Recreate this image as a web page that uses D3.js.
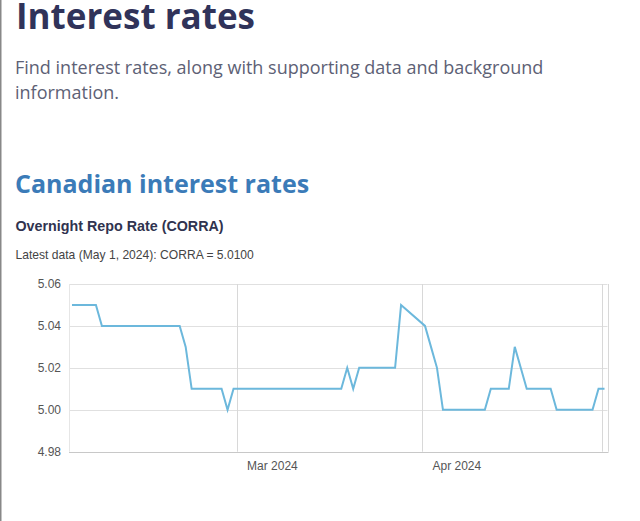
<!DOCTYPE html>
<html>
<head>
<meta charset="utf-8">
<script src="https://cdn.jsdelivr.net/npm/d3@7"></script>
<style>
  html, body { margin: 0; padding: 0; background: #fff; }
  svg { display: block; }
</style>
</head>
<body>
<svg id="chart" width="640" height="521"></svg>
<script>
// ---- Data (CORRA, business days) ----
const dates = [
  "2024-02-02","2024-02-05","2024-02-06","2024-02-07","2024-02-08","2024-02-09",
  "2024-02-12","2024-02-13","2024-02-14","2024-02-15","2024-02-16","2024-02-20",
  "2024-02-21","2024-02-22","2024-02-23","2024-02-26","2024-02-27","2024-02-28",
  "2024-02-29","2024-03-01","2024-03-04","2024-03-05","2024-03-06","2024-03-07",
  "2024-03-08","2024-03-11","2024-03-12","2024-03-13","2024-03-14","2024-03-15",
  "2024-03-18","2024-03-19","2024-03-20","2024-03-21","2024-03-22","2024-03-25",
  "2024-03-26","2024-03-27","2024-03-28","2024-04-01","2024-04-02","2024-04-03",
  "2024-04-04","2024-04-05","2024-04-08","2024-04-09","2024-04-10","2024-04-11",
  "2024-04-12","2024-04-15","2024-04-16","2024-04-17","2024-04-18","2024-04-19",
  "2024-04-22","2024-04-23","2024-04-24","2024-04-25","2024-04-26","2024-04-29",
  "2024-04-30","2024-05-01"
];
const values = [
  5.05,5.05,5.05,5.04,5.04,5.04,
  5.04,5.04,5.04,5.04,5.04,5.04,
  5.03,5.01,5.01,5.01,5.01,5.00,
  5.01,5.01,5.01,5.01,5.01,5.01,
  5.01,5.01,5.01,5.01,5.01,5.01,
  5.01,5.02,5.01,5.02,5.02,5.02,
  5.02,5.02,5.05,5.04,5.03,5.02,
  5.00,5.00,5.00,5.00,5.00,5.00,
  5.01,5.01,5.03,5.02,5.01,5.01,
  5.01,5.00,5.00,5.00,5.00,5.00,
  5.01,5.01
];
const yTicks = [4.98, 5.00, 5.02, 5.04, 5.06];
const xTickDates = ["2024-03-01", "2024-04-01", "2024-05-01"];
const xTickLabels = ["Mar 2024", "Apr 2024", ""];
const xDomain = ["2024-02-02", "2024-05-02"];

const parse = d3.utcParse("%Y-%m-%d");
const HALF_DAY = 12 * 3600 * 1000;
const series = dates.map((d, i) => ({ t: new Date(parse(d).getTime() + HALF_DAY), v: values[i] }));

const svg = d3.select("#chart");

// page left border
svg.append("rect").attr("x", 0).attr("y", 0).attr("width", 1.5).attr("height", 521).attr("fill", "#888");

// headings
svg.append("text").attr("x", 16).attr("y", 29)
  .attr("font-family", "Open Sans").attr("font-weight", 700).attr("font-size", 35)
  .attr("fill", "#30335a").text("Interest rates");

const sub = svg.append("text").attr("font-family", "Open Sans").attr("font-size", 18)
  .attr("fill", "#5d6175");
sub.append("tspan").attr("x", 15).attr("y", 74).text("Find interest rates, along with supporting data and background");
sub.append("tspan").attr("x", 15).attr("y", 99).text("information.");

svg.append("text").attr("x", 15).attr("y", 193)
  .attr("font-family", "Open Sans").attr("font-weight", 700).attr("font-size", 25)
  .attr("fill", "#3b7bb8").text("Canadian interest rates");

svg.append("text").attr("x", 15.5).attr("y", 231)
  .attr("font-family", "Liberation Sans, Arial, sans-serif").attr("font-weight", 700).attr("font-size", 14.3)
  .attr("fill", "#30334f").text("Overnight Repo Rate (CORRA)");

svg.append("text").attr("x", 15.5).attr("y", 258.5)
  .attr("font-family", "Liberation Sans, Arial, sans-serif").attr("font-size", 12.1)
  .attr("fill", "#444").text("Latest data (May 1, 2024): CORRA = 5.0100");

// ---- chart ----
const L = 69, R = 607.5, T = 284, B = 451.7;
const x = d3.scaleUtc().domain(xDomain.map(parse)).range([L, R]);
const y = d3.scaleLinear().domain([4.98, 5.06]).range([B, T]);

const g = svg.append("g");

// horizontal gridlines
g.selectAll(".hg").data(yTicks).join("line")
  .attr("x1", L).attr("x2", R)
  .attr("y1", d => Math.round(y(d)) + 0.5).attr("y2", d => Math.round(y(d)) + 0.5)
  .attr("stroke", "#e0e0e0").attr("stroke-width", 1);

// vertical gridlines at month starts
g.selectAll(".vg").data(xTickDates).join("line")
  .attr("x1", d => Math.round(x(parse(d))) + 0.5).attr("x2", d => Math.round(x(parse(d))) + 0.5)
  .attr("y1", T).attr("y2", B)
  .attr("stroke", "#d8d8d8").attr("stroke-width", 1);

// frame left / right
g.append("line").attr("x1", L + 0.5).attr("x2", L + 0.5).attr("y1", T).attr("y2", B)
  .attr("stroke", "#e6e6e6");
g.append("line").attr("x1", Math.round(R) + 0.5).attr("x2", Math.round(R) + 0.5).attr("y1", T).attr("y2", B)
  .attr("stroke", "#d8d8d8");

// bottom axis line
g.append("line").attr("x1", L).attr("x2", R + 1).attr("y1", Math.round(B) + 0.5).attr("y2", Math.round(B) + 0.5)
  .attr("stroke", "#c8c8c8");

// y tick labels
g.selectAll(".yl").data(yTicks).join("text")
  .attr("x", 61).attr("y", d => y(d)).attr("dy", "0.35em")
  .attr("text-anchor", "end")
  .attr("font-family", "Liberation Sans, Arial, sans-serif").attr("font-size", 12)
  .attr("fill", "#555").text(d => d3.format(".2f")(d));

// x tick labels
g.selectAll(".xl").data(xTickDates).join("text")
  .attr("x", d => x(parse(d)) + 10.5).attr("y", 469.5)
  .attr("font-family", "Liberation Sans, Arial, sans-serif").attr("font-size", 12)
  .attr("fill", "#555").text((d, i) => xTickLabels[i]);

// line
const line = d3.line().x(d => x(d.t)).y(d => y(d.v));
g.append("path").datum(series).attr("d", line)
  .attr("fill", "none").attr("stroke", "#6cb8dc").attr("stroke-width", 2)
  .attr("stroke-linejoin", "miter");
</script>
</body>
</html>
